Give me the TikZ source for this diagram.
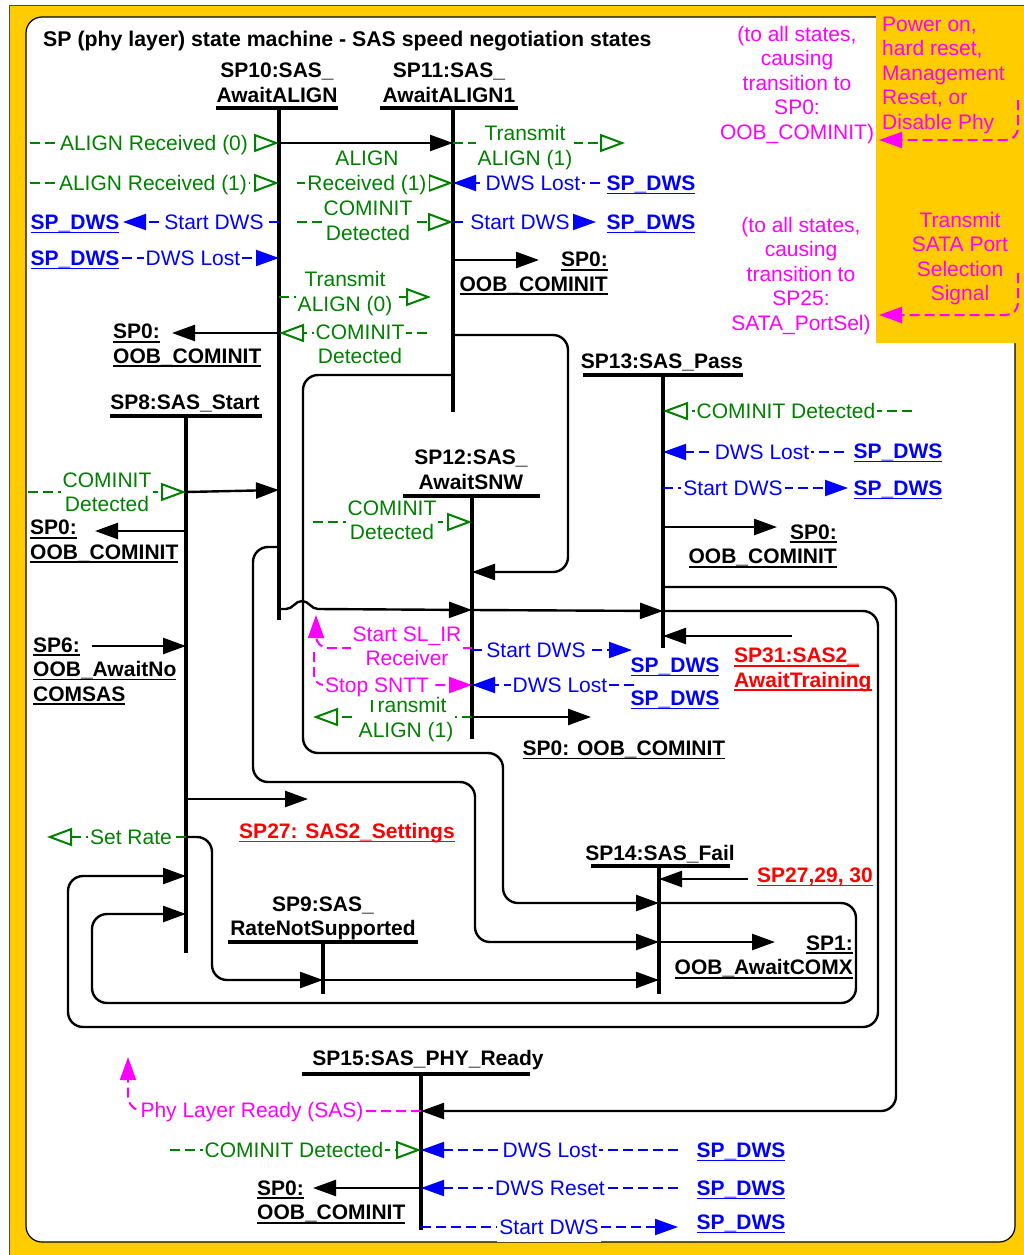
\documentclass[tikz,border=0pt]{standalone}
\usepackage{fontspec}
\setmainfont{Liberation Sans}
\usetikzlibrary{arrows.meta}
\definecolor{ylw}{HTML}{FFCC00}
\definecolor{grn}{HTML}{008000}
\definecolor{blu}{HTML}{0000FF}
\definecolor{mag}{HTML}{FF00FF}
\definecolor{rdd}{HTML}{FF0000}
\newcommand\zs{\strut}
\newcommand\myul[1]{\setbox0\hbox{#1}\rlap{\vrule height -2.2pt depth 3.8pt width \wd0}\box0}
\begin{document}
\begin{tikzpicture}[x=1pt,y=-1pt,
  txt/.style={font=\fontsize{21}{24.5}\selectfont, inner sep=0pt, align=center, yshift=-2.6pt},
  bt/.style={txt, font=\fontsize{21}{24.5}\selectfont\bfseries},
  gl/.style={txt, text=grn, fill=white, inner xsep=2pt},
  bl/.style={txt, text=blu, fill=white, inner xsep=2pt},
  ml/.style={txt, text=mag, fill=white, inner xsep=2pt},
  dws/.style={bt, text=blu},
  rl/.style={bt, text=rdd},
  sbar/.style={line width=4pt},
  svl/.style={line width=4.5pt},
  tr/.style={line width=2.4pt, -{Triangle[length=23pt,width=16pt]}},
  rt/.style={tr, rounded corners=15pt},
  gc/.style={draw=grn, line width=2pt, dash pattern=on 10pt off 5pt, -{Triangle[open,length=25pt,width=18pt]}},
  bc/.style={draw=blu, line width=2pt, dash pattern=on 10pt off 5pt, -{Triangle[length=23pt,width=16pt]}},
  mc/.style={draw=mag, line width=2pt, dash pattern=on 10pt off 5pt, -{Triangle[length=23pt,width=16pt]}},
]
\useasboundingbox (0,0) rectangle (1024,1255);
% background
\fill[white] (0,0) rectangle (1024,1255);
\fill[ylw] (9,6) rectangle (1024,1255);
\draw[line width=1pt, black!70] (9,1255) -- (9,6) -- (1024,6);
\draw[fill=white, line width=1.2pt, rounded corners=16pt] (26,17) rectangle (1015,1242);
\fill[ylw] (876,7) rectangle (1024,343);

% ---------- states: bars and verticals ----------
\draw[sbar] (216,108) -- (338,108);   \draw[svl] (279,108) -- (279,620);   % SP10
\draw[sbar] (380,108) -- (518,108);   \draw[svl] (453,108) -- (453,412);   % SP11
\draw[sbar] (110,416) -- (262,416);   \draw[svl] (186,416) -- (186,953);   % SP8
\draw[sbar] (403,496) -- (540,496);   \draw[svl] (472,496) -- (472,739);   % SP12
\draw[sbar] (583,375) -- (743,375);   \draw[svl] (663,375) -- (663,648);   % SP13
\draw[sbar] (228,942) -- (418,942);   \draw[svl] (323,942) -- (323,994);   % SP9
\draw[sbar] (591,866) -- (730,866);   \draw[svl] (659,866) -- (659,994);   % SP14
\draw[sbar] (302,1074) -- (530,1074); \draw[svl] (421,1074) -- (421,1230); % SP15

% ---------- solid transitions ----------
\draw[tr] (279,143) -- (453,143);
\draw[tr] (279,333) -- (172,333);
\draw[rt] (279,547) -- (253,547) -- (253,782) -- (475,782) -- (475,942) -- (659,942);
\draw[tr] (279,609) -- (286,609) .. controls (293,609) and (295,601) .. (302,601) .. controls (309,601) and (311,609) .. (318,609) -- (472,610);
\draw[tr] (453,260) -- (539,260);
\draw[rt] (453,335) -- (568,335) -- (568,572) -- (472,572);
\draw[rt] (453,375) -- (303,375) -- (303,753) -- (503,753) -- (503,903) -- (659,903);
\draw[tr] (186,492) -- (279,490);
\draw[tr] (186,531) -- (95,531);
\draw[tr] (92,646) -- (186,646);
\draw[tr] (186,799) -- (308,799);
\draw[rt] (186,837) -- (212,837) -- (212,980) -- (323,980);
\draw[tr] (323,980) -- (659,980);
\draw[tr] (472,610) -- (663,611);
\draw[tr] (472,717) -- (591,717);
\draw[tr] (663,527) -- (777,527);
\draw[rt] (663,587) -- (896,587) -- (896,1111) -- (421,1111);
\draw[rt] (663,611) -- (878,611) -- (878,1027) -- (68,1027) -- (68,876) -- (186,876);
\draw[tr] (792,636) -- (663,636);
\draw[tr] (748,879) -- (659,879);
\draw[rt] (659,903) -- (856,903) -- (856,1003) -- (92,1003) -- (92,914) -- (186,914);
\draw[tr] (659,942) -- (775,942);
\draw[tr] (421,1188) -- (313,1188);

% ---------- green conditions ----------
\draw[gc] (30,143) -- (279,143);
\draw[gc] (30,183) -- (279,183);
\draw[gc] (279,297) -- (431,297);
\draw[gc] (427,333) -- (279,333);
\draw[gc] (453,143) -- (625,143);
\draw[gc] (297,183) -- (453,183);
\draw[gc] (297,222) -- (453,222);
\draw[gc] (28,492) -- (186,492);
\draw[gc] (186,837) -- (47,837);
\draw[gc] (313,522) -- (472,522);
\draw[gc] (472,717) -- (313,717);
\draw[gc] (912,411) -- (663,411);
\draw[gc] (170,1150) -- (421,1150);

% ---------- blue DWS ----------
\draw[bc] (279,222) -- (123,222);
\draw[bc] (122,258) -- (279,258);
\draw[bc] (600,183) -- (453,183);
\draw[bc] (453,222) -- (596,222);
\draw[bc] (472,650) -- (632,650);
\draw[bc] (634,685) -- (472,685);
\draw[bc] (844,452) -- (663,452);
\draw[bc] (663,488) -- (848,488);
\draw[bc] (678,1150) -- (421,1150);
\draw[bc] (678,1188) -- (421,1188);
\draw[bc] (421,1227) -- (678,1227);

% ---------- magenta ----------
\draw[mc, rounded corners=12pt] (472,648) -- (316,648) -- (316,615);
\draw[mc, rounded corners=10pt] (314,652) -- (314,685) -- (472,685);
\draw[mc, rounded corners=15pt] (421,1111) -- (128,1111) -- (128,1057);
\draw[mc, rounded corners=12pt] (1018,100) -- (1018,140) -- (879,140);
\draw[mc, rounded corners=12pt] (1018,273) -- (1018,315) -- (879,315);

% ---------- texts ----------
\node[bt, anchor=west, font=\fontsize{21.3}{24.5}\selectfont\bfseries] (title) at (43,39) {\zs SP (phy layer) state machine - SAS speed negotiation states};

\node[bt] (sp10) at (277,82.5) {\zs SP10:SAS\_\\\zs AwaitALIGN};
\node[bt] (sp11) at (449,82.5) {\zs SP11:SAS\_\\\zs AwaitALIGN1};
\node[bt] (sp8) at (185,402) {\zs SP8:SAS\_Start};
\node[bt] (sp12) at (471,469.5) {\zs SP12:SAS\_\\\zs AwaitSNW};
\node[bt] (sp13) at (662,361) {\zs SP13:SAS\_Pass};
\node[bt] (sp9) at (323,916) {\zs SP9:SAS\_\\\zs RateNotSupported};
\node[bt] (sp14) at (660,853) {\zs SP14:SAS\_Fail};
\node[bt] (sp15) at (428,1058) {\zs SP15:SAS\_PHY\_Ready};

% targets (black)
\node[bt, anchor=west, align=left] (t0a) at (113,343.5) {\zs\myul{SP0:}\\\zs\myul{OOB\_COMINIT}};
\node[bt, anchor=east, align=right] (t0b) at (608,271.5) {\zs\myul{SP0:}\\\zs\myul{OOB\_COMINIT}};
\node[bt, anchor=west, align=left] (t0c) at (30,539.5) {\zs\myul{SP0:}\\\zs\myul{OOB\_COMINIT}};
\node[bt, anchor=west, align=left] (t6) at (33,669) {\zs\myul{SP6:}\\\zs\myul{OOB\_AwaitNo}\\\zs\myul{COMSAS}};
\node[bt, anchor=east, align=right] (t0d) at (837,544) {\zs\myul{SP0:}\\\zs\myul{OOB\_COMINIT}};
\node[bt] (t0e) at (624,748) {\zs\myul{SP0: OOB\_COMINIT}};
\node[bt, anchor=east, align=right] (t1) at (853,955) {\zs\myul{SP1:}\\\zs\myul{OOB\_AwaitCOMX}};
\node[bt, anchor=west, align=left] (t0f) at (257,1200) {\zs\myul{SP0:}\\\zs\myul{OOB\_COMINIT}};

% red
\node[rl] (t27) at (347,831) {\zs\myul{SP27: SAS2\_Settings}};
\node[rl, anchor=west, align=left] (t31) at (734,667.5) {\zs\myul{SP31:SAS2\_}\\\zs\myul{AwaitTraining}};
\node[rl] (t2729) at (815,875) {\zs\myul{SP27,29, 30}};

% SP_DWS
\node[dws] (d1) at (75,222) {\zs\myul{SP\_DWS}};
\node[dws] (d2) at (75,258) {\zs\myul{SP\_DWS}};
\node[dws] (d3) at (651,183) {\zs\myul{SP\_DWS}};
\node[dws] (d4) at (651,222) {\zs\myul{SP\_DWS}};
\node[dws] (d5) at (675,665) {\zs\myul{SP\_DWS}};
\node[dws] (d6) at (675,698) {\zs\myul{SP\_DWS}};
\node[dws] (d7) at (898,451) {\zs\myul{SP\_DWS}};
\node[dws] (d8) at (898,488) {\zs\myul{SP\_DWS}};
\node[dws] (d9) at (741,1150) {\zs\myul{SP\_DWS}};
\node[dws] (d10) at (741,1188) {\zs\myul{SP\_DWS}};
\node[dws] (d11) at (741,1222) {\zs\myul{SP\_DWS}};

% green labels
\node[gl] (g1) at (154,143) {\zs ALIGN Received (0)};
\node[gl] (g2) at (153,183) {\zs ALIGN Received (1)};
\node[gl] (g3) at (345,291.5) {\zs Transmit\\\zs ALIGN (0)};
\node[gl] (g4) at (360,344) {\zs COMINIT\\\zs Detected};
\node[gl] (g5) at (525,145.5) {\zs Transmit\\\zs ALIGN (1)};
\node[gl] (g6) at (367,170.5) {\zs ALIGN\\\zs Received (1)};
\node[gl] (g7) at (368,220.5) {\zs COMINIT\\\zs Detected};
\node[gl] (g8) at (107,492) {\zs COMINIT\\\zs Detected};
\node[gl] (g9) at (131,837) {\zs Set Rate};
\node[gl] (g10) at (392,520) {\zs COMINIT\\\zs Detected};
\node[gl] (g11) at (406,717.5) {\zs Transmit\\\zs ALIGN (1)};
\node[gl] (g12) at (786,411) {\zs COMINIT Detected};
\node[gl] (g13) at (294,1150) {\zs COMINIT Detected};

% blue labels
\node[bl] (b1) at (214,222) {\zs Start DWS};
\node[bl] (b2) at (193,258) {\zs DWS Lost};
\node[bl] (b3) at (533,183) {\zs DWS Lost};
\node[bl] (b4) at (520,222) {\zs Start DWS};
\node[bl] (b5) at (536,650) {\zs Start DWS};
\node[bl] (b6) at (560,685) {\zs DWS Lost};
\node[bl] (b7) at (762,452) {\zs DWS Lost};
\node[bl] (b8) at (733,488) {\zs Start DWS};
\node[bl] (b9) at (550,1150) {\zs DWS Lost};
\node[bl] (b10) at (550,1188) {\zs DWS Reset};
\node[bl] (b11) at (549,1227) {\zs Start DWS};

% magenta labels
\node[ml] (m1) at (407,646) {\zs Start SL\_IR\\\zs Receiver};
\node[ml] (m2) at (377,685) {\zs Stop SNTT};
\node[ml] (m3) at (252,1110) {\zs Phy Layer Ready (SAS)};
\node[txt, text=mag] (m4) at (797,82.5) {\zs(to all states,\\\zs causing\\\zs transition to\\\zs SP0:\\\zs OOB\_COMINIT)};
\node[txt, text=mag] (m5) at (801,273.5) {\zs(to all states,\\\zs causing\\\zs transition to\\\zs SP25:\\\zs SATA\_PortSel)};
\node[txt, text=mag, anchor=west, align=left] (m6) at (882,72.5) {\zs Power on,\\\zs hard reset,\\\zs Management\\\zs Reset, or\\\zs Disable Phy};
\node[txt, text=mag] (m7) at (960,256.5) {\zs Transmit\\\zs SATA Port\\\zs Selection\\\zs Signal};
\end{tikzpicture}
\end{document}
